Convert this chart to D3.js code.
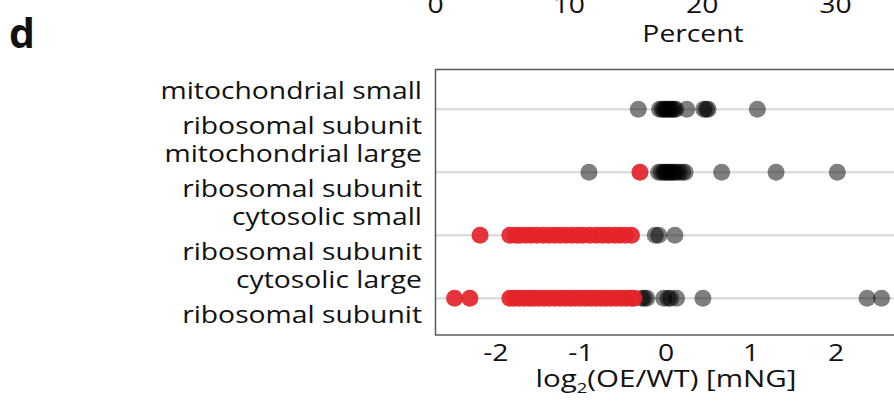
<!DOCTYPE html>
<html>
<head>
<meta charset="utf-8">
<script src="https://cdn.jsdelivr.net/npm/d3@7"></script>
<style>
  body { margin: 0; background: #fff; }
  text { font-family: "Open Sans", "Noto Sans", sans-serif; fill: #111; }
</style>
</head>
<body>
<div id="chart"></div>
<script>
// categories, top to bottom (two text lines each)
const categories = ["mitoSmall", "mitoLarge", "cytoSmall", "cytoLarge"];
const labelLines = [
  ["mitochondrial small", "ribosomal subunit"],
  ["mitochondrial large", "ribosomal subunit"],
  ["cytosolic small", "ribosomal subunit"],
  ["cytosolic large", "ribosomal subunit"]
];

// log2(OE/WT) values, grey = not changed, red = down
const mitoSmallGrey = [-0.32, -0.07, -0.04, -0.02, 0, 0.02, 0.04, 0.06, 0.08, 0.10, 0.12, 0.25, 0.45, 0.48, 0.50, 1.08];
const mitoSmallRed = [];
const mitoLargeGrey = [-0.9, -0.08, -0.05, -0.02, 0, 0.02, 0.04, 0.06, 0.08, 0.10, 0.13, 0.16, 0.20, 0.23, 0.66, 1.30, 2.02];
const mitoLargeRed = [-0.30];
const cytoSmallGrey = [-0.12, -0.08, 0.11];
const cytoSmallRed = [-2.18, -1.83, -1.76, -1.71, -1.64, -1.58, -1.51, -1.44, -1.37, -1.30, -1.24, -1.17, -1.10,
  -1.03, -0.97, -0.89, -0.81, -0.74, -0.67, -0.60, -0.54, -0.47, -0.40];
const cytoLargeGrey = [-0.28, -0.25, -0.22, -0.02, 0.03, 0.06, 0.13, 0.44, 2.37, 2.54];
const cytoLargeRed = [-2.48, -2.30, -1.83, -1.78, -1.72, -1.66, -1.60, -1.55, -1.49, -1.43, -1.37, -1.30, -1.24,
  -1.18, -1.12, -1.06, -1.00, -0.94, -0.88, -0.82, -0.76, -0.70, -0.64, -0.58, -0.52, -0.46, -0.40, -0.37];

const xTicks = [-2, -1, 0, 1, 2];
const topTicks = [0, 10, 20, 30];

const width = 894, height = 403;
const sx = 1.23; // the figure text is a bit stretched sideways

const svg = d3.select("#chart").append("svg")
  .attr("width", width)
  .attr("height", height);

// plot box
const box = { left: 435.5, top: 69.5, right: 905, bottom: 335 };

const x = d3.scaleLinear().domain([-2.71, 2.71]).range([435, 896]);
const y = d3.scalePoint().domain(categories).range([109.3, 298.3]);

// panel letter
svg.append("text")
  .attr("x", 9).attr("y", 48)
  .style("font-size", "41px").style("font-weight", "bold")
  .text("d");

// cut-off axis of the panel above
const xTop = d3.scaleLinear().domain([0, 30]).range([435, 835]);
const topAxis = svg.append("g")
  .attr("transform", "translate(0,16)")
  .call(d3.axisTop(xTop).tickValues(topTicks).tickSize(0).tickPadding(3).tickFormat(d => String(d)));
topAxis.select(".domain").remove();
topAxis.selectAll("text")
  .style("font-family", null).style("font-size", "23px")
  .attr("transform", `scale(${sx},1)`);

svg.append("text")
  .attr("transform", `translate(693,42) scale(${sx},1)`)
  .attr("text-anchor", "middle")
  .style("font-size", "23px")
  .text("Percent");

// grid lines
svg.append("g").selectAll("line")
  .data(categories)
  .join("line")
  .attr("x1", box.left).attr("x2", box.right)
  .attr("y1", d => y(d)).attr("y2", d => y(d))
  .attr("stroke", "#dedede").attr("stroke-width", 2.5);

// frame
svg.append("rect")
  .attr("x", box.left).attr("y", box.top)
  .attr("width", box.right - box.left).attr("height", box.bottom - box.top)
  .attr("fill", "none").attr("stroke", "#5a5a5a").attr("stroke-width", 1.5);

// points
const greyPts = [], redPts = [];
[mitoSmallGrey, mitoLargeGrey, cytoSmallGrey, cytoLargeGrey].forEach((vals, i) =>
  vals.forEach(v => greyPts.push({ cat: categories[i], v })));
[mitoSmallRed, mitoLargeRed, cytoSmallRed, cytoLargeRed].forEach((vals, i) =>
  vals.forEach(v => redPts.push({ cat: categories[i], v })));

svg.append("g").selectAll("circle")
  .data(greyPts)
  .join("circle")
  .attr("cx", d => x(d.v)).attr("cy", d => y(d.cat))
  .attr("r", 8.5)
  .attr("fill", "#000").attr("fill-opacity", 0.5);

svg.append("g").selectAll("circle")
  .data(redPts)
  .join("circle")
  .attr("cx", d => x(d.v)).attr("cy", d => y(d.cat))
  .attr("r", 8.5)
  .attr("fill", "#e42429").attr("fill-opacity", 0.92);

// category labels
const labels = svg.append("g");
categories.forEach((c, i) => {
  labelLines[i].forEach((line, j) => {
    labels.append("text")
      .attr("transform", `translate(422,${y(c) + (j === 0 ? -10 : 24.5)}) scale(${sx},1)`)
      .attr("text-anchor", "end")
      .style("font-size", "23px")
      .text(line);
  });
});

// bottom axis
const xAxis = svg.append("g")
  .attr("transform", `translate(0,${box.bottom})`)
  .call(d3.axisBottom(x).tickValues(xTicks).tickSize(0).tickPadding(10).tickFormat(d => String(d)));
xAxis.select(".domain").remove();
xAxis.selectAll("text")
  .style("font-family", null).style("font-size", "23px")
  .attr("transform", `scale(${sx},1)`);

const title = svg.append("text")
  .attr("transform", `translate(666,387) scale(${sx},1)`)
  .attr("text-anchor", "middle")
  .style("font-size", "24px");
title.append("tspan").text("log");
title.append("tspan").attr("dy", 6).style("font-size", "15px").text("2");
title.append("tspan").attr("dy", -6).text("(OE/WT) [mNG]");
</script>
</body>
</html>
